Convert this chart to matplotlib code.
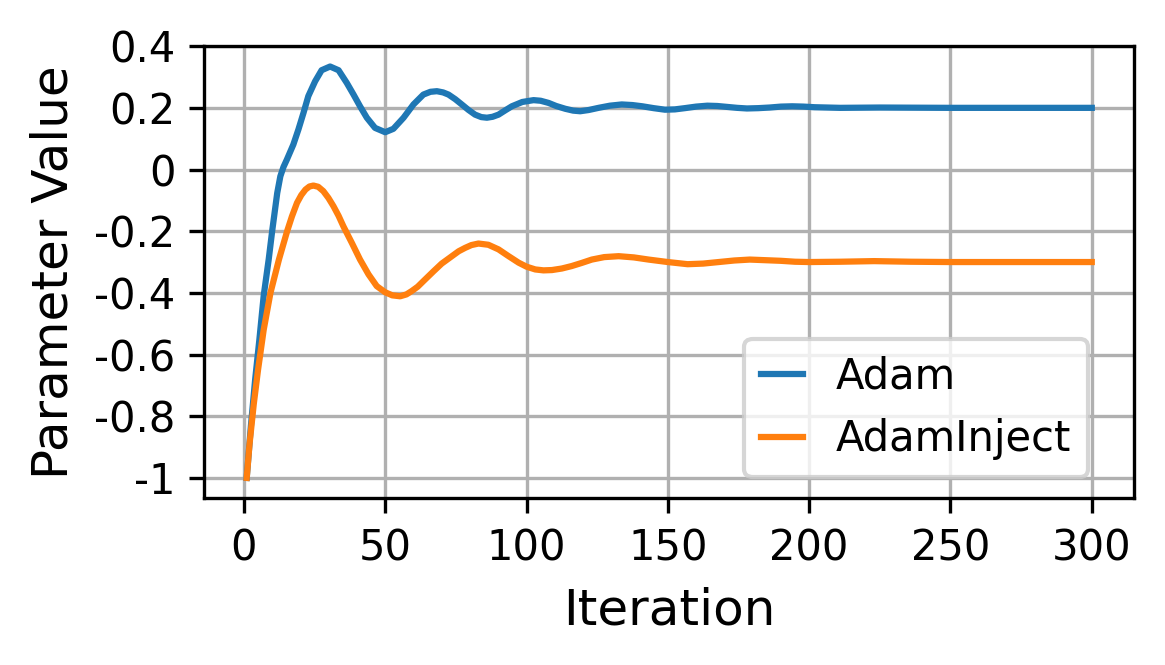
import matplotlib
matplotlib.use("Agg")
import matplotlib.pyplot as plt
from matplotlib.ticker import FuncFormatter, MultipleLocator

# Adam (blue)
adam_x = [1, 2.5, 4, 5.5, 7, 8.8, 10, 11.8, 12.9, 14.0, 15.2, 17.5, 19.3, 21.1,
          22.8, 25.2, 27.5, 30.5, 33.5, 36.4, 38.8, 41.1, 43.5, 46.4, 50, 52.9,
          56.5, 60, 63.5, 66, 68.3, 70.5, 72.4, 74.8, 77.1, 79.5, 81.8, 84,
          86, 88, 90.1, 92.5, 94.8, 98.5, 102.5, 105, 107.8, 110.5, 113.7,
          116.5, 119, 122, 125.5, 129.5, 133.7, 137.5, 141, 145, 149, 152.5,
          156, 160, 164, 167.5, 171, 174.5, 178, 182, 186, 190, 194, 198, 202,
          211, 225, 250, 275, 300]
adam_y = [-1.0, -0.83, -0.68, -0.55, -0.41, -0.29, -0.2, -0.076, -0.022,
          0.008, 0.032, 0.081, 0.13, 0.184, 0.238, 0.286, 0.322, 0.334, 0.322,
          0.281, 0.243, 0.205, 0.168, 0.135, 0.121, 0.132, 0.168, 0.211, 0.243,
          0.252, 0.254, 0.25, 0.243, 0.228, 0.211, 0.193, 0.178, 0.17, 0.168,
          0.171, 0.178, 0.192, 0.205, 0.219, 0.225, 0.223, 0.216, 0.206,
          0.197, 0.191, 0.189, 0.193, 0.2, 0.207, 0.211, 0.209, 0.205, 0.199,
          0.194, 0.195, 0.199, 0.204, 0.207, 0.206, 0.203, 0.2, 0.198, 0.199,
          0.201, 0.204, 0.205, 0.204, 0.202, 0.2, 0.201, 0.2, 0.2, 0.2]

# AdamInject (orange)
inj_x = [1, 2, 3.5, 5, 7, 9.4, 12.4, 15.3, 17.0, 18.8, 20.3, 21.8, 23.2, 24.6,
         26.3, 28.1, 29.9, 31.7, 33.5, 35.2, 38.2, 41.1, 44.1, 47, 50, 52.5,
         55.3, 57.5, 59.4, 61.5, 63.5, 67.1, 70, 73.6, 76, 78.3, 80.5, 83,
         86.5, 90.1, 93.5, 97.2, 100, 103.1, 106, 109, 112.5, 116, 119.5,
         123.1, 127.5, 132.6, 138, 143.2, 150, 157, 162.5, 168, 173.5, 179,
         184.5, 190, 195, 200, 211, 223, 236, 250, 275, 300]
inj_y = [-1.0, -0.89, -0.76, -0.65, -0.52, -0.4, -0.292, -0.2, -0.152, -0.108,
         -0.083, -0.065, -0.055, -0.052, -0.056, -0.07, -0.092, -0.119,
         -0.15, -0.184, -0.238, -0.292, -0.34, -0.378, -0.398, -0.408, -0.411,
         -0.405, -0.394, -0.38, -0.362, -0.33, -0.305, -0.281, -0.265, -0.254,
         -0.245, -0.24, -0.244, -0.259, -0.28, -0.302, -0.315, -0.324, -0.327,
         -0.326, -0.321, -0.313, -0.303, -0.292, -0.284, -0.281, -0.285,
         -0.292, -0.3, -0.307, -0.305, -0.3, -0.295, -0.292, -0.294, -0.296,
         -0.299, -0.3, -0.299, -0.297, -0.299, -0.3, -0.3, -0.3]

series_labels = ["Adam", "AdamInject"]
colors = ["#1f77b4", "#ff7f0e"]

fig = plt.figure(figsize=(1165 / 300, 665 / 300), dpi=300)
ax = fig.add_axes([0.1755, 0.2504, 0.7979, 0.6805])

ax.plot(adam_x, adam_y, color=colors[0], lw=1.5, label=series_labels[0])
ax.plot(inj_x, inj_y, color=colors[1], lw=1.5, label=series_labels[1])

ax.grid(True, color="#b0b0b0", lw=0.8)
ax.set_axisbelow(True)

ax.yaxis.set_major_locator(MultipleLocator(0.2))
ax.yaxis.set_major_formatter(FuncFormatter(lambda v, p: f"{round(v, 6) + 0.0:g}"))
ax.tick_params(labelsize=10)
ax.set_xlabel("Iteration", fontsize=12)
ax.set_ylabel("Parameter Value", fontsize=12)

ax.legend(loc="lower right", bbox_to_anchor=(0.9505, 0.0475), borderaxespad=0,
          fontsize=10, handlelength=1.0)

fig.savefig("out.png", dpi=300)
